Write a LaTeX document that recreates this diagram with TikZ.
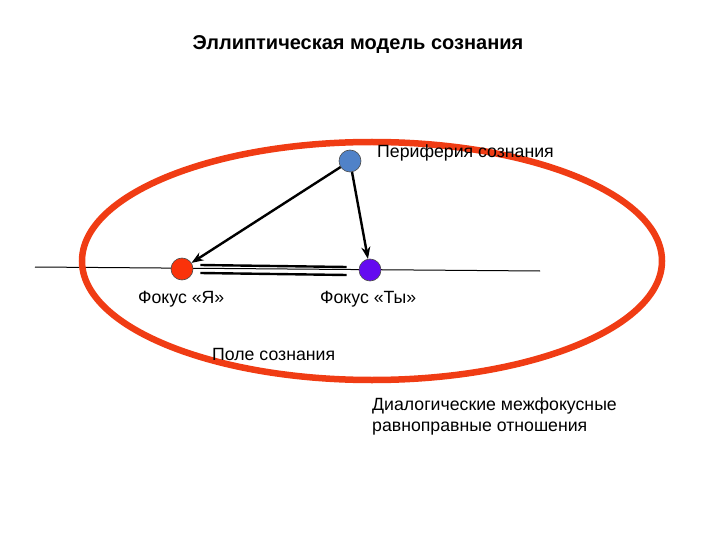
\documentclass[tikz,border=0pt]{standalone}
\usepackage{fontspec}
\setmainfont{Liberation Sans}
\usetikzlibrary{arrows.meta}
\definecolor{ellred}{RGB}{240,60,20}
\definecolor{focred}{RGB}{250,50,10}
\definecolor{focpur}{RGB}{100,10,240}
\definecolor{perblue}{RGB}{80,130,200}
\tikzset{
  dot/.style={circle, draw=black!70, line width=0.6pt, minimum size=22pt, inner sep=0pt},
  lbl/.style={font=\fontsize{17.7}{21.5}\selectfont, inner sep=0pt, anchor=west},
  arr/.style={-{Stealth[length=12pt,width=9pt]}, line width=2.4pt},
}
\begin{document}
\begin{tikzpicture}[x=1pt,y=-1pt]
\useasboundingbox (0,0) rectangle (720,540);
% axis
\coordinate (axL) at (35,267);
\coordinate (axR) at (540,271);
\draw[line width=1pt] (axL) -- (axR);
% ellipse
\draw[ellred, line width=6.5pt] (372,261) ellipse [x radius=290, y radius=119];
% foci
\node[dot, fill=focred] (ya) at (182,269) {};
\node[dot, fill=focpur] (ty) at (370,270) {};
\node[dot, fill=perblue] (per) at (350,161) {};
% double relation lines
\draw[line width=2.4pt] ([xshift=7pt,yshift=-4pt]ya.east) -- ([xshift=-12pt,yshift=-5pt]ty.west);
\draw[line width=2.4pt] ([xshift=7pt,yshift=4pt]ya.east) -- ([xshift=-12pt,yshift=3pt]ty.west);
% arrows
\draw[arr] (per) -- (ya);
\draw[arr] (per) -- (ty);
% texts
\node[font=\bfseries\fontsize{20}{24}\selectfont, inner sep=0pt] (title) at (358,45) {Эллиптическая модель сознания};
\node[lbl] (tper) at (377,153) {Периферия сознания};
\node[lbl] (tya) at (138,299) {Фокус «Я»};
\node[lbl] (tty) at (320,299) {Фокус «Ты»};
\node[lbl] (tpole) at (212,354) {Поле сознания};
\node[lbl, align=left, anchor=north west] (tdia) at (372,397) {Диалогические межфокусные\\равноправные отношения};
\end{tikzpicture}
\end{document}
